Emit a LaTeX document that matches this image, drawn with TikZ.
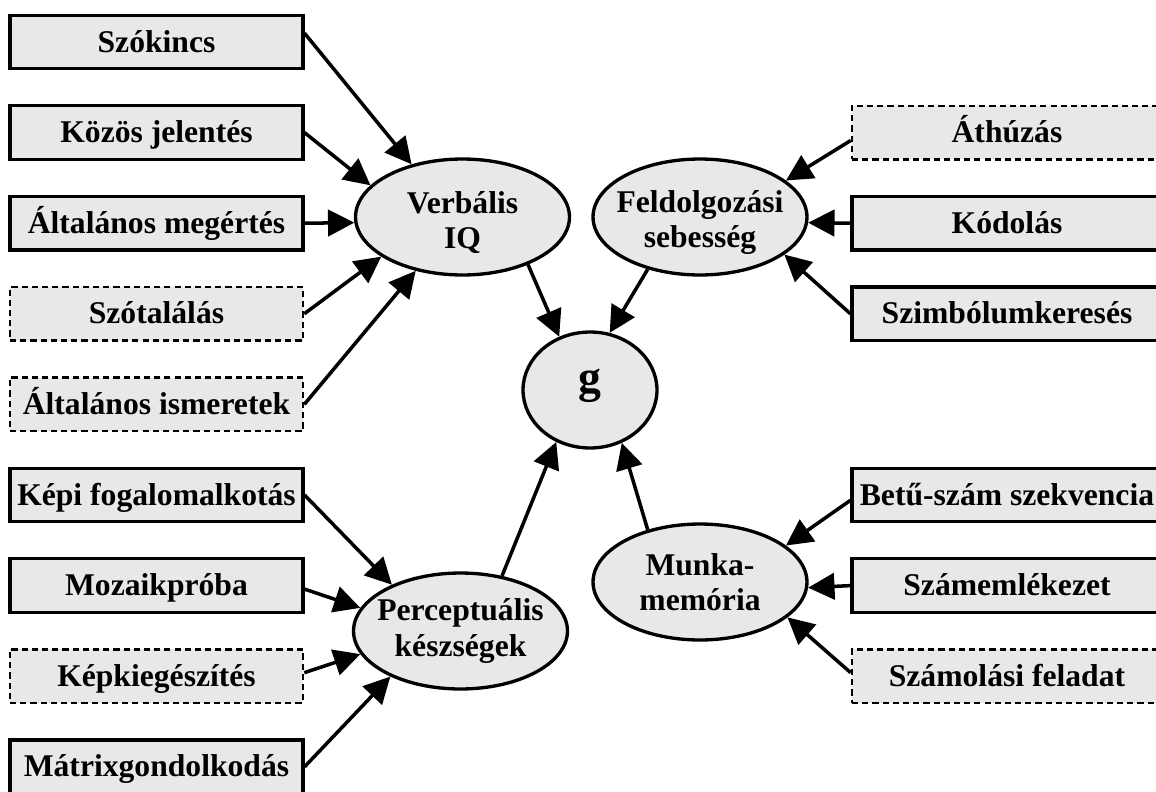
\documentclass[tikz,border=0pt]{standalone}
\usepackage{fontspec}
\setmainfont{Liberation Serif}
\usetikzlibrary{arrows.meta,shapes.geometric}
\definecolor{Shade}{HTML}{E8E8E8}
\newcommand{\zw}[1]{\makebox[0pt]{#1}}

\begin{document}
\begin{tikzpicture}[x=0.02cm,y=-0.02cm,
    every node/.style={font=\fontsize{18}{20}\selectfont\bfseries},
    testbox/.style={draw,line width=1.8pt,fill=Shade,minimum width=5.86cm,minimum height=1.07cm,
      text height=13pt,text depth=1.5pt,inner sep=0pt},
    optbox/.style={testbox,line width=1.5pt,dash pattern=on 3.5pt off 2.3pt},
    widebox/.style={minimum width=6.2cm},
    latent/.style={draw,ellipse,line width=1.9pt,fill=Shade,minimum width=4.28cm,minimum height=2.32cm,
      inner sep=0pt,align=center},
    arr/.style={-{Triangle[length=15pt,width=15pt]},line width=2pt}]
        \clip (0,0) rectangle (1156,791);
        % factors
        \node[latent,text height=39pt] (verbal) at (462.5,217) {\zw{Verbális}\\\zw{IQ}};
        \node[latent,text height=39pt] (speed) at (700,217) {\zw{Feldolgozási}\\\zw{sebesség}};
        \node[latent] (percept) at (460.5,631) {\zw{Perceptuális}\\\zw{készségek}};
        \node[latent] (wm) at (700,582) {\zw{Munka-}\\\zw{memória}};
        \node[latent,minimum width=2.68cm,font=\fontsize{26}{28}\selectfont\bfseries,
          text height=3pt,text depth=0pt] (g) at (590,390) {g};
        % subtests, left
        \node[testbox] (szo) at (156.5,42) {Szókincs};
        \node[testbox] (koz) at (156.5,132.6) {Közös jelentés};
        \node[testbox] (alm) at (156.5,223.2) {Általános megértés};
        \node[optbox] (szt) at (156.5,313.8) {Szótalálás};
        \node[optbox] (ais) at (156.5,404.4) {Általános ismeretek};
        \node[testbox] (kep) at (156.5,495) {Képi fogalomalkotás};
        \node[testbox] (moz) at (156.5,585.6) {Mozaikpróba};
        \node[optbox] (kki) at (156.5,676.2) {Képkiegészítés};
        \node[testbox] (mat) at (156.5,766.8) {Mátrixgondolkodás};
        % subtests, right
        \node[optbox,widebox] (ath) at (1007,132.6) {Áthúzás};
        \node[testbox,widebox] (kod) at (1007,223.2) {Kódolás};
        \node[testbox,widebox] (szi) at (1007,313.8) {Szimbólumkeresés};
        \node[testbox,widebox] (bet) at (1007,495) {Betű-szám szekvencia};
        \node[testbox,widebox] (sze) at (1007,585.6) {Számemlékezet};
        \node[optbox,widebox] (szf) at (1007,676.2) {Számolási feladat};
        % arrows
        \draw[arr] ([yshift=5pt]szo.east) -- (verbal.134);
        \foreach \a/\b in {koz/verbal.161,alm/verbal.183,szt/verbal.206,ais/verbal.229,kep/percept.146,mat/percept.213}
          \draw[arr] (\a.east) -- (\b);
        \draw[arr] ([yshift=-2pt]moz.east) -- (percept.167);
        \draw[arr] ([yshift=2pt]kki.east) -- (percept.193);
        \draw[arr] ([yshift=-4.5pt]ath.west) -- (speed.23);
        \draw[arr] ([yshift=-3pt]bet.west) -- (wm.23);
        \draw[arr] ([yshift=2pt]szf.west) -- (wm.338);
        \foreach \a/\b in {kod/speed.357,szi/speed.336,sze/wm.357}
          \draw[arr] (\a.west) -- (\b);
        \foreach \a/\b in {verbal.324/g.120,speed.225/g.71,percept.53/g.237,wm.135/g.301}
          \draw[arr] (\a) -- (\b);
      \end{tikzpicture}
\end{document}
